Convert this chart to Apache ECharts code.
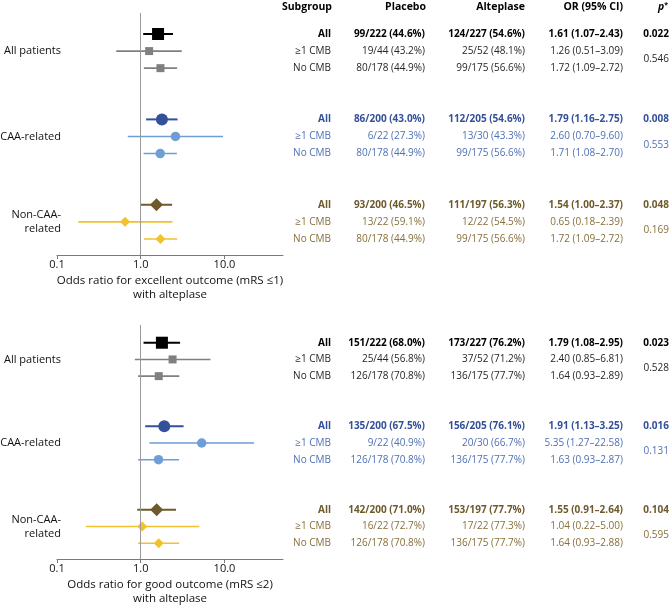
<!DOCTYPE html>
<html><head><meta charset="utf-8">
<script src="https://cdn.jsdelivr.net/npm/echarts@6/dist/echarts.min.js"></script>
<style>html,body{margin:0;padding:0;background:#fff}#c{width:670px;height:607px}</style>
</head><body><div id="c"></div>
<script>
// ---- data ----
const rowPos = [0,1,2, 5,6,7, 10,11,12];
const groupLabels = ['All patients','CAA-related','Non-CAA-\nrelated'];
const subLabels = ['All','≥1 CMB','No CMB'];
const xTicks = [0.1, 1, 10];

// Excellent outcome (mRS ≤1)
const excPlaceboN = [99,19,80, 86,6,80, 93,13,80];
const excPlaceboT = [222,44,178, 200,22,178, 200,22,178];
const excAlteN = [124,25,99, 112,13,99, 111,12,99];
const excAlteT = [227,52,175, 205,30,175, 197,22,175];
const excOR = [1.61,1.26,1.72, 1.79,2.60,1.71, 1.54,0.65,1.72];
const excLo = [1.07,0.51,1.09, 1.16,0.70,1.08, 1.00,0.18,1.09];
const excHi = [2.43,3.09,2.72, 2.75,9.60,2.70, 2.37,2.39,2.72];
const excP = ['0.022','0.008','0.048'];
const excPInt = ['0.546','0.553','0.169'];

// Good outcome (mRS ≤2)
const goodPlaceboN = [151,25,126, 135,9,126, 142,16,126];
const goodPlaceboT = [222,44,178, 200,22,178, 200,22,178];
const goodAlteN = [173,37,136, 156,20,136, 153,17,136];
const goodAlteT = [227,52,175, 205,30,175, 197,22,175];
const goodOR = [1.79,2.40,1.64, 1.91,5.35,1.63, 1.55,1.04,1.64];
const goodLo = [1.08,0.85,0.93, 1.13,1.27,0.93, 0.91,0.22,0.93];
const goodHi = [2.95,6.81,2.89, 3.25,22.58,2.87, 2.64,5.00,2.88];
const goodP = ['0.023','0.016','0.104'];
const goodPInt = ['0.528','0.131','0.595'];

// ---- style ----
const FONT = "'Open Sans', 'Noto Sans', sans-serif";
const markAll = ['#000000','#34509a','#6e5a2c'];
const markSub = ['#808080','#6e9ed8','#f2c12e'];
const textAll = ['#000000','#34509a','#6e5a2c'];
const textSub = ['#262626','#4f70b4','#86703b'];
const symbols = ['rect','circle','diamond'];
const sizeAll = [12,12,13];
const sizeSub = [8,9.5,10];
const colX = {label:61, sub:331, placebo:425, alte:525, or:623, p:669};

function frac(n,t){ return n + '/' + t + ' (' + (n/t*100).toFixed(1) + '%)'; }
function orStr(o,l,h){ return o.toFixed(2) + ' (' + l.toFixed(2) + '–' + h.toFixed(2) + ')'; }

function buildSeries(gi, D){
  const ciData = rowPos.map((r,i)=>[D.lo[i], D.hi[i], r]);
  const ptData = rowPos.map((r,i)=>{
    const g = Math.floor(i/3), all = i%3===0;
    return {value:[D.or[i], r], symbol:symbols[g], symbolSize: all?sizeAll[g]:sizeSub[g],
      itemStyle:{color: all?markAll[g]:markSub[g], opacity:1}};
  });
  const tblData = rowPos.map(r=>[1, r]);
  return [
    {type:'custom', xAxisIndex:gi, yAxisIndex:gi, silent:true, z:2,
     encode:{x:[0,1], y:2}, data:ciData,
     renderItem:function(params, api){
       const i = params.dataIndex, g = Math.floor(i/3), all = i%3===0;
       const a = api.coord([api.value(0), api.value(2)]);
       const b = api.coord([api.value(1), api.value(2)]);
       return {type:'line', shape:{x1:a[0], y1:a[1], x2:b[0], y2:b[1]},
         style:{stroke: all?markAll[g]:markSub[g], lineWidth: all?2:1.6}};
     }},
    {type:'scatter', xAxisIndex:gi, yAxisIndex:gi, silent:true, z:3, data:ptData,
     markLine:{silent:true, symbol:'none', label:{show:false},
       lineStyle:{color:'#9a9a9a', width:1, type:'solid'}, data:[{xAxis:1}]}},
    {type:'custom', xAxisIndex:gi, yAxisIndex:gi, silent:true, z:4,
     encode:{x:0, y:1}, data:tblData,
     renderItem:function(params, api){
       const i = params.dataIndex, g = Math.floor(i/3), k = i%3, all = k===0;
       const y = api.coord([1, api.value(1)])[1];
       const col = all?textAll[g]:textSub[g];
       const font = (all?'bold ':'') + '10px ' + FONT;
       const t = (x, s, c, f, al) => ({type:'text', x:x, y:y,
         style:{text:s, fill:c||col, font:f||font, align:al||'right', verticalAlign:'middle'}});
       const ch = [
         t(colX.sub, subLabels[k]),
         t(colX.placebo, frac(D.pn[i], D.pt[i])),
         t(colX.alte, frac(D.an[i], D.at[i])),
         t(colX.or, orStr(D.or[i], D.lo[i], D.hi[i]))
       ];
       if (all) ch.push(t(colX.p, D.p[g]));
       if (k===1) {
         const yNext = api.coord([1, rowPos[i+1]])[1];
         const ym = (y + yNext)/2;
         ch.push({type:'text', x:colX.p, y:ym, style:{text:D.pint[g], fill:textSub[g],
           font:'10px ' + FONT, align:'right', verticalAlign:'middle'}});
         ch.push({type:'text', x:colX.label, y:y, style:{text:groupLabels[g], fill:'#111',
           font:'11px ' + FONT, align:'right', verticalAlign:'middle', lineHeight:14}});
       }
       return {type:'group', children:ch};
     }}
  ];
}

const excD = {pn:excPlaceboN, pt:excPlaceboT, an:excAlteN, at:excAlteT, or:excOR, lo:excLo, hi:excHi, p:excP, pint:excPInt};
const goodD = {pn:goodPlaceboN, pt:goodPlaceboT, an:goodAlteN, at:goodAlteT, or:goodOR, lo:goodLo, hi:goodHi, p:goodP, pint:goodPInt};

function xAxisCfg(gi, name){
  return {type:'log', logBase:10, gridIndex:gi, min:0.1, max:50,
    name:name, nameLocation:'middle', nameGap:19,
    nameTextStyle:{fontFamily:FONT, fontSize:11.5, color:'#111', lineHeight:14, verticalAlign:'top'},
    axisLine:{onZero:false, lineStyle:{color:'#7a7a7a', width:1}},
    axisTick:{show:true, length:4, customValues:xTicks, lineStyle:{color:'#7a7a7a'}},
    axisLabel:{customValues:xTicks, margin:4, fontFamily:FONT, fontSize:11, color:'#111',
      formatter:v=>Number(v).toFixed(1)},
    splitLine:{show:false}, minorTick:{show:false}};
}
function yAxisCfg(gi, mn, mx){
  return {type:'value', gridIndex:gi, inverse:true, min:mn, max:mx, show:false,
    splitLine:{show:false}};
}

const hdr = (x, s) => ({type:'text', x:x, y:7, style:{text:s, font:'bold 10.5px ' + FONT,
  fill:'#000', align:'right', verticalAlign:'middle'}});

const option = {
  animation:false,
  backgroundColor:'#fff',
  grid:[
    {left:57, width:226, top:13, height:242},
    {left:57, width:226, top:325, height:238}
  ],
  xAxis:[
    xAxisCfg(0, 'Odds ratio for excellent outcome (mRS ≤1)\nwith alteplase'),
    xAxisCfg(1, 'Odds ratio for good outcome (mRS ≤2)\nwith alteplase')
  ],
  yAxis:[ yAxisCfg(0, -1.23, 12.94), yAxisCfg(1, -1.06, 12.94) ],
  graphic:[
    hdr(colX.sub+1, 'Subgroup'),
    hdr(colX.placebo+1, 'Placebo'),
    hdr(colX.alte, 'Alteplase'),
    hdr(colX.or, 'OR (95% CI)'),
    {type:'text', x:668, y:7, style:{text:'{i|p}{s|*}', align:'right', verticalAlign:'middle',
      rich:{i:{font:'italic bold 10.5px ' + FONT, fill:'#000'},
            s:{font:'bold 7px ' + FONT, fill:'#000', verticalAlign:'top', padding:[0,0,4,0]}}}}
  ],
  series: buildSeries(0, excD).concat(buildSeries(1, goodD))
};
echarts.init(document.getElementById('c'), null, {renderer:'canvas'}).setOption(option);
</script></body></html>
